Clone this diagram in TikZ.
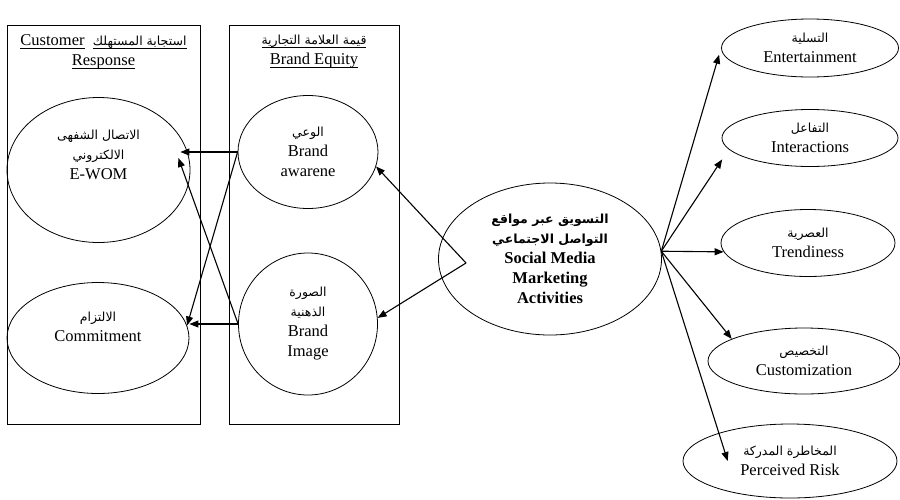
\documentclass[tikz,border=0pt]{standalone}
\usepackage{fontspec}
\usepackage{tikz}
\usetikzlibrary{shapes.geometric}
\usetikzlibrary{arrows.meta,arrows}
\usetikzlibrary{calc}
\setmainfont{Liberation Serif}
\newfontfamily\arabicfont[Script=Arabic]{DejaVu Sans}
\TeXXeTstate=1
\newcommand{\artxt}[1]{{\arabicfont\fontsize{12.5}{20}\selectfont\beginR #1\endR}}
\newcommand{\uln}[1]{\setbox0\hbox{#1}\rlap{\rule[-2.5pt]{\wd0}{0.7pt}}\box0}

\begin{document}
\begin{tikzpicture}[x=1pt,y=-1pt,
  txt/.style={align=center,inner sep=0pt,font=\fontsize{16.5}{20}\selectfont},
  oval/.style={ellipse,draw,line width=0.8pt,inner sep=0pt,txt},
  panel/.style={draw,line width=1pt,inner sep=0pt},
  link/.style={line width=1.1pt,-{Triangle[length=9pt,width=7pt]}}]
\useasboundingbox (0,0) rectangle (900,499);

% the two boxes
\node[panel,minimum width=193pt,minimum height=399pt] (crBox) at (103.5,224.5) {};
\node[panel,minimum width=170pt,minimum height=399pt] (beBox) at (314,224.5) {};
\node[txt] (crTitle) at (103.5,52) {\uln{Customer}\ \ \uln{\artxt{استجابة المستهلك}}\\\uln{Response}};
\node[txt] (beTitle) at (314,52) {\uln{\artxt{قيمة العلامة التجارية}}\\\uln{Brand Equity}};

\node[oval,minimum width=183pt,minimum height=145pt] (ewom) at (98.5,170) {};
\node[txt] (ewomTxt) at (98.5,155) {\artxt{الاتصال الشفهى}\\\artxt{الالكتروني}\\E-WOM};
\node[oval,minimum width=182pt,minimum height=111pt] (commit) at (98,338) {};
\node[txt] (commitTxt) at (98,327) {\artxt{الالتزام}\\Commitment};

\node[oval,minimum width=140pt,minimum height=113pt] (aware) at (308,152) {\artxt{الوعي}\\Brand\\awarene};
\node[oval,minimum width=139pt,minimum height=142pt] (image) at (308,324) {\artxt{الصورة}\\\artxt{الذهنية}\\Brand\\Image};

\node[oval,minimum width=223pt,minimum height=152pt,font=\fontsize{16.5}{20}\selectfont\bfseries] (smma) at (550,259)
  {\artxt{التسويق عبر مواقع}\\\artxt{التواصل الاجتماعي}\\Social Media\\Marketing\\Activities};

% right side
\node[oval,minimum width=177pt,minimum height=58pt] (ent) at (810,48) {\artxt{التسلية}\\Entertainment};
\node[oval,minimum width=176pt,minimum height=57pt] (inter) at (810,138) {\artxt{التفاعل}\\Interactions};
\node[oval,minimum width=174pt,minimum height=67pt] (trend) at (808,243) {\artxt{العصرية}\\Trendiness};
\node[oval,minimum width=192pt,minimum height=66pt] (custom) at (804,361) {\artxt{التخصيص}\\Customization};
\node[oval,minimum width=214pt,minimum height=74pt] (risk) at (790,461) {\artxt{المخاطرة المدركة}\\Perceived Risk};

\coordinate (hub) at (466,263);

\draw[link] (aware.west) -- ($(aware.west -| ewom.east)+(-10,0)$);
\draw[link] (image.west) -- ($(ewom.east)+(-12,-12)$);
\draw[link] (aware.west) -- (commit.8);
\draw[link] (image.west) -- (image.west -| commit.east);
\draw[link] (hub) -- (aware.-12);
\draw[link] (hub) -- (image.5);
\draw[link,shorten >=7pt] (smma.4) -- (ent.west);
\draw[link,shorten >=12pt] (smma.4) -- (inter.188);
\draw[link] (smma.4) -- (trend.186);
\draw[link] (smma.4) -- (custom.163);
\draw[link] (smma.4) -- ($(risk.west)!.42!(risk.center)$);
\end{tikzpicture}
\end{document}
